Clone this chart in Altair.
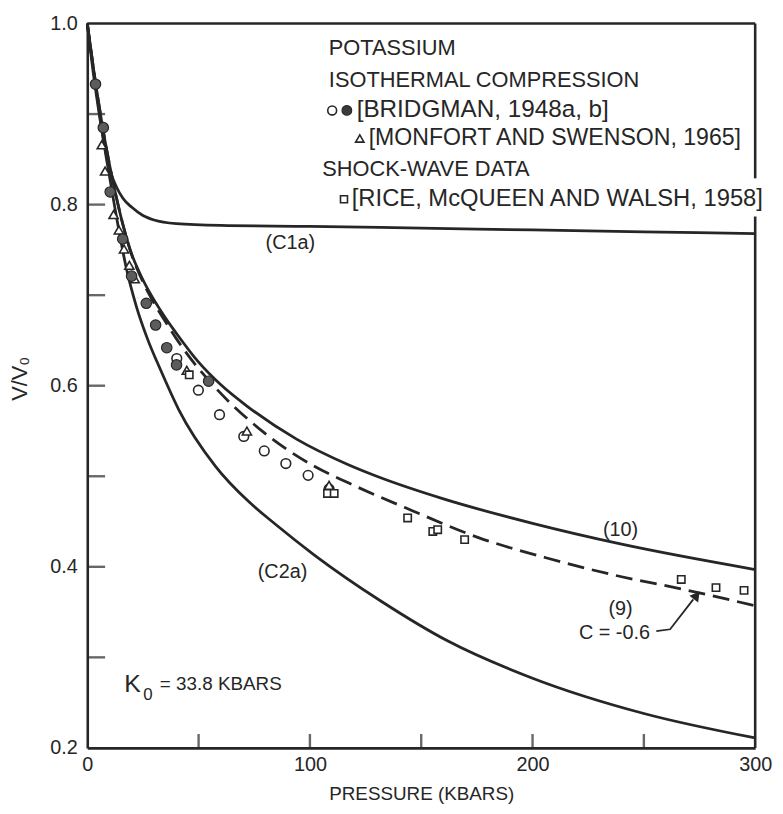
import altair as alt
import pandas as pd

FONT = "Liberation Sans"
INK = "#262626"
W, H = 674, 731

# ---------------- curves ----------------
c1a_p = [0, 3, 5, 7, 9, 11, 13, 16, 20, 25, 30, 40, 60, 100, 150, 200, 250, 300]
c1a_v = [1.0, 0.945, 0.91, 0.876, 0.85, 0.832, 0.82, 0.807, 0.797, 0.788, 0.783,
         0.779, 0.777, 0.776, 0.774, 0.772, 0.770, 0.768]

eq10_p = [0, 4, 8, 12, 16, 20, 24, 28, 34, 40, 50, 60, 72, 94, 117, 130, 160, 200, 240, 300]
eq10_v = [1.0, 0.93, 0.87, 0.82, 0.778, 0.745, 0.722, 0.703, 0.679, 0.658, 0.626,
          0.601, 0.577, 0.541, 0.513, 0.500, 0.475, 0.448, 0.425, 0.397]

eq9_p = [0, 4, 8, 12, 16, 20, 24, 28, 34, 40, 48, 59, 79, 102, 117, 146, 176, 206, 240, 264, 300]
eq9_v = [1.0, 0.93, 0.87, 0.82, 0.778, 0.744, 0.72, 0.70, 0.675, 0.652, 0.625,
         0.594, 0.549, 0.511, 0.493, 0.462, 0.432, 0.41, 0.389, 0.377, 0.357]

c2a_p = [0, 3, 6, 9, 12.5, 17.7, 22, 27, 33, 41, 57.6, 72.5, 84.5, 102, 132, 162, 200, 250, 300]
c2a_v = [1.0, 0.94, 0.89, 0.845, 0.795, 0.728, 0.688, 0.652, 0.617, 0.574, 0.511,
         0.472, 0.447, 0.413, 0.362, 0.318, 0.277, 0.238, 0.211]

# ---------------- data points ----------------
bridg_open_p = [40.2, 49.9, 59.4, 70.3, 79.5, 89.2, 99.2, 108.6]
bridg_open_v = [0.630, 0.595, 0.568, 0.544, 0.528, 0.514, 0.501, 0.486]
bridg_fill_p = [3.7, 7.2, 10.3, 15.9, 19.9, 26.5, 30.7, 35.7, 40.1, 54.5]
bridg_fill_v = [0.933, 0.885, 0.814, 0.762, 0.721, 0.691, 0.667, 0.642, 0.623, 0.605]
monf_p = [6.5, 8.0, 11.8, 14.2, 16.5, 18.9, 21.3, 44.7, 71.7, 108.6]
monf_v = [0.866, 0.837, 0.789, 0.772, 0.751, 0.733, 0.718, 0.617, 0.550, 0.490]
rice_p = [45.8, 107.9, 110.9, 143.9, 155.2, 157.4, 169.5, 266.8, 282.4, 295.0]
rice_v = [0.612, 0.481, 0.481, 0.454, 0.439, 0.441, 0.430, 0.386, 0.377, 0.374]

# ---------------- legend / annotations ----------------
legend_text = ["POTASSIUM", "ISOTHERMAL COMPRESSION", "[BRIDGMAN, 1948a, b]",
               "[MONFORT AND SWENSON, 1965]", "SHOCK-WAVE DATA",
               "[RICE, McQUEEN AND WALSH, 1958]"]
legend_p = [108.5, 108.5, 121.0, 126.4, 105.5, 118.8]
legend_v = [0.973, 0.937, 0.904, 0.873, 0.839, 0.806]
legend_fs = [22, 22, 24.5, 23.3, 22, 24]

leg_open = ([110.0], [0.904])
leg_fill = ([116.6], [0.904])
leg_tri = ([122.4], [0.873])
leg_sq = ([115.3], [0.806])

ann_text = ["(C1a)", "(10)", "(9)", "C = -0.6", "(C2a)"]
ann_p = [91.2, 239.5, 239.5, 236.8, 87.7]
ann_v = [0.757, 0.441, 0.353, 0.327, 0.394]

arrow_p = [255.6, 261.8, 272.2]
arrow_v = [0.329, 0.331, 0.364]
arrow_head = ([273.6], [0.368])

x_minor = [50, 100, 150, 200, 250]
y_minor = [0.3, 0.4, 0.5, 0.6, 0.7, 0.8, 0.9]

# ---------------- encodings ----------------
X = alt.X("x:Q", scale=alt.Scale(domain=[0, 300], nice=False, zero=False),
          axis=alt.Axis(values=[0, 100, 200, 300], format="d", title="PRESSURE (KBARS)",
                        grid=False, ticks=False, tickSize=0, labelPadding=7,
                        labelFontSize=20, labelFont=FONT, labelColor=INK,
                        labelFlush=False, labelOverlap=False,
                        domainColor=INK, domainWidth=2.6,
                        titleFont=FONT, titleFontSize=19, titleFontWeight="normal",
                        titleColor=INK, titleY=46, titleX=W / 2,
                        titleBaseline="middle", titleAlign="center"))
Y = alt.Y("y:Q", scale=alt.Scale(domain=[0.2, 1.0], nice=False, zero=False),
          axis=alt.Axis(values=[0.2, 0.4, 0.6, 0.8, 1.0], format=".1f", title="V/V₀",
                        grid=False, ticks=False, tickSize=0, labelPadding=10,
                        labelFontSize=20, labelFont=FONT, labelColor=INK,
                        labelFlush=False, labelOverlap=False,
                        domainColor=INK, domainWidth=2.6,
                        titleFont=FONT, titleFontSize=22, titleFontWeight="normal",
                        titleColor=INK, titleX=-68, titleY=358, titleAngle=270,
                        titleAlign="center", titleBaseline="middle"))


def df(p, v, **extra):
    d = pd.DataFrame({"x": p, "y": v})
    for k, val in extra.items():
        d[k] = val
    return d


solid = pd.concat([df(c1a_p, c1a_v, curve="C1a"), df(eq10_p, eq10_v, curve="10"),
                   df(c2a_p, c2a_v, curve="C2a")])

frame = pd.DataFrame({"x": [0, 300, 300], "x2": [300, 300, 300],
                      "y": [1.0, 1.0, 0.787], "y2": [1.0, 0.829, 0.2]})

layers = []
layers.append(alt.Chart(frame).mark_rule(color=INK, strokeWidth=2.6).encode(
    x=X, x2="x2:Q", y=Y, y2="y2:Q"))
layers.append(alt.Chart(pd.DataFrame({"y": y_minor})).mark_tick(
    orient="horizontal", size=18, thickness=2.4, color=INK).encode(y=Y, x=alt.value(9)))
layers.append(alt.Chart(pd.DataFrame({"x": x_minor})).mark_tick(
    orient="vertical", size=14, thickness=2.4, color=INK).encode(x=X, y=alt.value(H - 7)))
layers.append(alt.Chart(solid).mark_line(interpolate="monotone", color=INK, strokeWidth=2.8)
              .encode(x=X, y=Y, detail="curve:N"))
layers.append(alt.Chart(df(eq9_p, eq9_v)).mark_line(
    interpolate="monotone", color=INK, strokeWidth=2.8, strokeDash=[17, 8]).encode(x=X, y=Y))


def pts(p, v, shape, size, fill, sw=1.6):
    return alt.Chart(df(p, v)).mark_point(
        shape=shape, filled=True, fill=fill, stroke=INK, strokeWidth=sw,
        size=size, opacity=1).encode(x=X, y=Y)


layers.append(pts(bridg_open_p, bridg_open_v, "circle", 95, "white"))
layers.append(pts(monf_p, monf_v, "triangle-up", 85, "white"))
layers.append(pts(rice_p, rice_v, "square", 55, "white"))
layers.append(pts(bridg_fill_p, bridg_fill_v, "circle", 110, "#5c5c5c", 1.2))
layers.append(pts(*leg_open, "circle", 80, "white"))
layers.append(pts(*leg_fill, "circle", 95, "#3a3a3a", 1.2))
layers.append(pts(*leg_tri, "triangle-up", 70, "white"))
layers.append(pts(*leg_sq, "square", 50, "white"))

layers.append(alt.Chart(df(legend_p, legend_v, text=legend_text, fs=legend_fs)).mark_text(
    align="left", baseline="middle", font=FONT, color=INK).encode(
    x=X, y=Y, text="text:N", size=alt.Size("fs:Q", scale=None, legend=None)))
layers.append(alt.Chart(df(ann_p, ann_v, text=ann_text)).mark_text(
    align="center", baseline="middle", font=FONT, fontSize=20, color=INK).encode(
    x=X, y=Y, text="text:N"))

# K0 = 33.8 KBARS
layers.append(alt.Chart(df([16.6], [0.271], text=["K"])).mark_text(
    align="left", baseline="middle", font=FONT, fontSize=25, color=INK).encode(
    x=X, y=Y, text="text:N"))
layers.append(alt.Chart(df([27.2], [0.258], text=["0"])).mark_text(
    align="center", baseline="middle", font=FONT, fontSize=17, color=INK).encode(
    x=X, y=Y, text="text:N"))
layers.append(alt.Chart(df([32.6], [0.271], text=["= 33.8 KBARS"])).mark_text(
    align="left", baseline="middle", font=FONT, fontSize=19, color=INK).encode(
    x=X, y=Y, text="text:N"))

# arrow for C = -0.6
layers.append(alt.Chart(df(arrow_p, arrow_v, o=[0, 1, 2])).mark_line(
    color=INK, strokeWidth=1.8).encode(x=X, y=Y, order="o:Q"))
layers.append(alt.Chart(df(*arrow_head)).mark_point(
    shape="triangle-up", angle=38, filled=True, fill=INK, stroke=INK, size=60,
    opacity=1).encode(x=X, y=Y))

chart = alt.layer(*layers).properties(
    width=W, height=H,
    autosize=alt.AutoSizeParams(type="none"),
    padding={"left": 80, "top": 12, "right": 20, "bottom": 58},
    background="white",
).configure_view(strokeWidth=0)

chart.save("out.html", embed_options={"renderer": "svg", "actions": False})
